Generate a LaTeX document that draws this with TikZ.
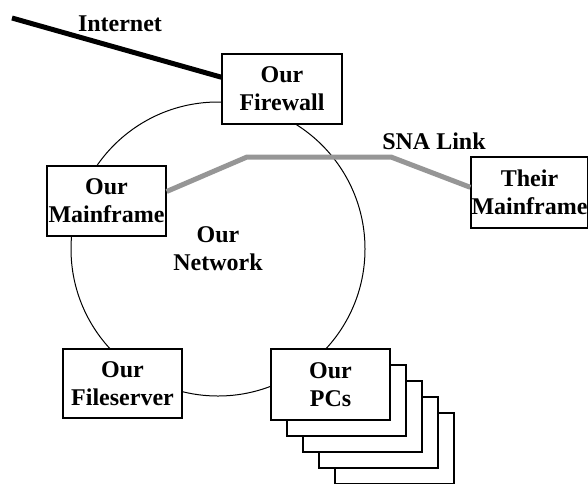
\documentclass[tikz,border=0pt]{standalone}
\usepackage{fontspec}
\setmainfont{Liberation Serif}
\tikzset{
  every node/.style={font=\fontsize{24}{28}\selectfont\bfseries, align=center, inner sep=0pt},
  box/.style={draw, line width=1.3pt, fill=white, minimum width=119pt, minimum height=70pt},
  ring/.style={draw, circle, line width=1pt, minimum size=294pt},
  inetlink/.style={line width=5pt},
  snalink/.style={line width=5pt, draw={rgb,255:red,150;green,150;blue,150}}
}
\begin{document}
\begin{tikzpicture}[x=1pt, y=-1pt]
  \useasboundingbox (0,0) rectangle (588,483);
  \clip (0,0) rectangle (588,483);

  % the network ring
  \node[ring] (net) at (218,249) {Our\\Network};

  % stacked PCs behind the front one
  \foreach \k in {4,3,2,1} {
    \node[box, minimum height=71pt] (pc\k) at (330.5+16*\k, 384.5+16*\k) {};
  }

  % hosts on the ring
  \node[box, minimum width=120pt] (fw) at (282,89) {Our\\Firewall};
  \node[box] (mf) at (106.5,201) {Our\\Mainframe};
  \node[box, minimum height=69pt] (fs) at (122.5,383.5) {Our\\Fileserver};
  \node[box, minimum height=71pt] (pcs) at (330.5,384.5) {Our\\PCs};
  \node[box, minimum width=117pt, minimum height=71pt] (their) at (529.5,192.5) {Their\\Mainframe};

  % Internet uplink
  \coordinate (inet) at (12,18);
  \draw[inetlink] (inet) -- (fw.169);
  \node (inetlbl) at (120,24) {Internet};

  % SNA link between the mainframes
  \coordinate (sna1) at (247,157);
  \coordinate (sna2) at (391,157);
  \draw[snalink, line join=miter] (mf.9) -- (sna1) -- (sna2) -- (their.175);
  \node (snalbl) at (434,141) {SNA Link};
\end{tikzpicture}
\end{document}
